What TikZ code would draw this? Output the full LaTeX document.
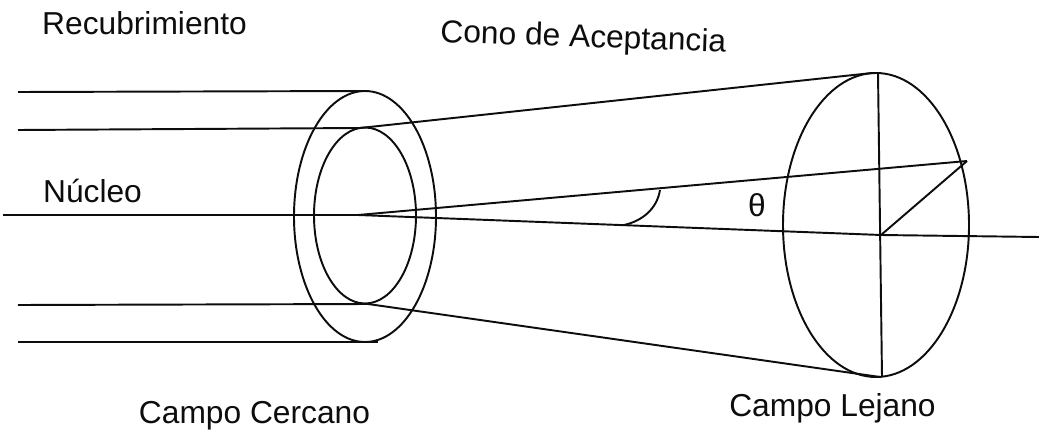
\documentclass[tikz,border=0pt]{standalone}
\usepackage{fontspec}
\setmainfont{Liberation Sans}
\tikzset{
  trazo/.style={line width=1.45pt,color=black!95},
  rotulo/.style={font=\fontsize{23.8}{28}\selectfont,color=black!95,inner sep=0pt,anchor=base},
}
\begin{document}
\begin{tikzpicture}[x=0.75pt,y=0.75pt,yscale=-1,xscale=1]
\useasboundingbox (0,0) rectangle (1039,432);

% Coordinates of the fibre
\coordinate (recubA) at (18,92);
\coordinate (recubB) at (365,91);
\coordinate (nucA) at (18,130);
\coordinate (nucB) at (360,128);
\coordinate (nucC) at (18,305);
\coordinate (nucD) at (368,304);
\coordinate (recubC) at (18,342);
\coordinate (recubD) at (378,342);
\coordinate (ejeA) at (3,215);
\coordinate (vertice) at (358,215);
% Coordinates of the far field
\coordinate (conoA) at (872,73);
\coordinate (conoB) at (880,377);
\coordinate (centro) at (881,235);
\coordinate (ejeB) at (1039,237);
\coordinate (punta) at (967,161);
\coordinate (arcoA) at (624,225);
\coordinate (arcoB) at (660,190);
\coordinate (diamA) at (878,73);
\coordinate (diamB) at (882,377);

%Ellipses
\draw [trazo] (365,216.5) circle [x radius=71, y radius=125.5];
\draw [trazo] (365,215.5) circle [x radius=51, y radius=88];
\draw [trazo] (876,225) circle [x radius=93, y radius=152];
%Straight Lines
\draw [trazo] (recubA) -- (recubB);
\draw [trazo] (nucA) -- (nucB) -- (conoA);
\draw [trazo] (nucC) -- (nucD) -- (conoB);
\draw [trazo] (recubC) -- (recubD);
\draw [trazo] (ejeA) -- (vertice) -- (centro) -- (ejeB);
\draw [trazo] (vertice) -- (punta);
\draw [trazo] (centro) -- (punta);
\draw [trazo] (diamA) -- (diamB);
%Curve Lines
\draw [trazo] (arcoA) .. controls (642,221) and (657,209) .. (arcoB);

% Text Node
\node [rotulo] (recubrimiento) at (144.5,34) {Recubrimiento};
% Text Node
\node [rotulo,rotate=-2] (cono) at (583,47) {Cono de Aceptancia};
% Text Node
\node [rotulo] (nucleo) at (92.5,202) {Núcleo};
% Text Node
\node [rotulo] (theta) at (757,216) {θ};
% Text Node
\node [rotulo] (cercano) at (254.5,423) {Campo Cercano};
% Text Node
\node [rotulo] (lejano) at (832.5,416) {Campo Lejano};

\end{tikzpicture}
\end{document}
